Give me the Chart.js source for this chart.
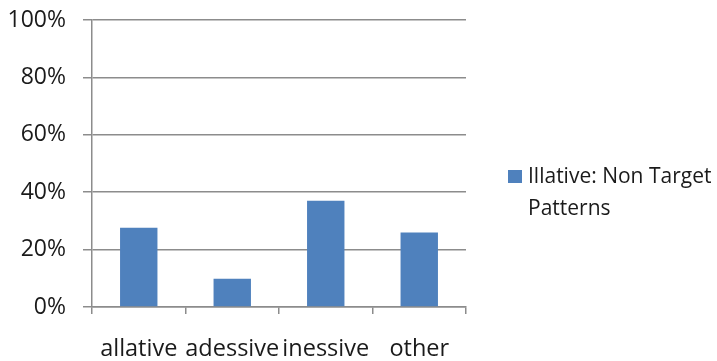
<!DOCTYPE html>
<html lang="en">

<head>
    <meta charset="UTF-8">
    <title>Illative: Non Target Patterns</title>
    <script src="https://cdn.jsdelivr.net/npm/chart.js"></script>
    <style>
        html, body { margin: 0; padding: 0; background: #fff; }
        #wrap { width: 717px; height: 361px; }
    </style>
</head>

<body>
    <div id="wrap">
        <canvas id="caseChart" width="717" height="361"></canvas>
    </div>

    <script>
        // categories and shares (percent)
        const categories = ['allative', 'adessive', 'inessive', 'other'];
        const shares = [27.6, 9.8, 37.0, 26.0];
        const seriesName = 'Illative: Non Target Patterns';
        const legendLines = ['Illative: Non Target', 'Patterns'];

        const gridGray = '#8c8c8c';
        const barBlue = '#4f81bd';
        const textColor = '#1a1a1a';

        // legend drawn by hand so the label can wrap over two lines
        const sideLegend = {
            id: 'sideLegend',
            afterDraw(chart) {
                const ctx = chart.ctx;
                const x = chart.chartArea.right + 42;
                const y = 170;
                ctx.save();
                ctx.fillStyle = chart.data.datasets[0].backgroundColor;
                ctx.fillRect(x, y, 14, 13);
                ctx.fillStyle = textColor;
                ctx.font = '21px "Open Sans"';
                ctx.textBaseline = 'alphabetic';
                ctx.textAlign = 'left';
                legendLines.forEach((line, i) => {
                    ctx.fillText(line, x + 20, y + 13 + i * 32);
                });
                ctx.restore();
            }
        };

        new Chart(document.getElementById('caseChart'), {
            type: 'bar',
            data: {
                labels: categories,
                datasets: [{
                    label: seriesName,
                    data: shares,
                    backgroundColor: barBlue,
                    barPercentage: 0.4,
                    categoryPercentage: 1.0
                }]
            },
            options: {
                responsive: false,
                animation: false,
                layout: {
                    padding: { top: 20, right: 251, left: 0, bottom: 0 }
                },
                plugins: {
                    legend: { display: false },
                    tooltip: { enabled: false }
                },
                scales: {
                    x: {
                        grid: {
                            display: true,
                            offset: true,
                            drawOnChartArea: false,
                            drawTicks: true,
                            tickLength: 7,
                            color: gridGray,
                            lineWidth: 1.5
                        },
                        border: { color: gridGray, width: 1.5 },
                        ticks: {
                            color: textColor,
                            font: { family: 'Open Sans', size: 23.5 },
                            padding: 21,
                            maxRotation: 0,
                            autoSkip: false
                        },
                        afterFit(scale) {
                            scale.height = 54;
                            scale.paddingLeft = 0;
                            scale.paddingRight = 0;
                        }
                    },
                    y: {
                        min: 0,
                        max: 100,
                        grid: {
                            color: gridGray,
                            lineWidth: 1.5,
                            tickLength: 9
                        },
                        border: { color: gridGray, width: 1.5 },
                        ticks: {
                            stepSize: 20,
                            color: textColor,
                            font: { family: 'Open Sans', size: 23 },
                            padding: 17,
                            callback: v => v + '%'
                        },
                        afterFit(scale) {
                            scale.width = 92;
                            scale.paddingTop = 0;
                            scale.paddingBottom = 0;
                        }
                    }
                }
            },
            plugins: [sideLegend]
        });
    </script>
</body>

</html>
